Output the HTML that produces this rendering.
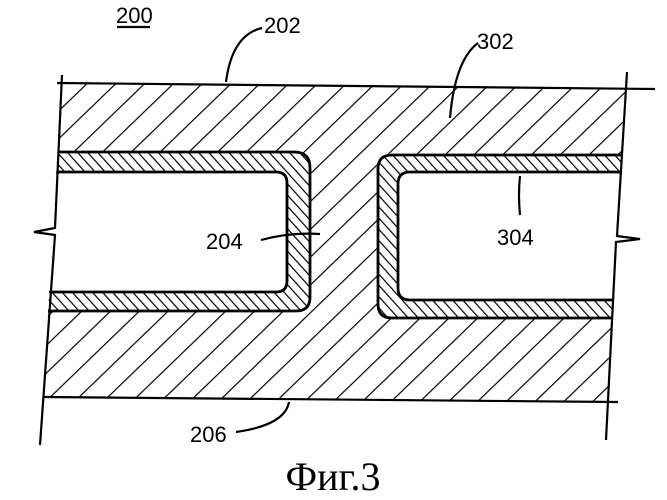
<!DOCTYPE html>
<html><head><meta charset="utf-8"><style>
html,body{margin:0;padding:0;background:#fff;}
svg{display:block;}
text{font-family:"Liberation Sans",Arial,sans-serif;fill:#000;}
</style></head><body>
<svg width="667" height="500" viewBox="0 0 667 500" xmlns="http://www.w3.org/2000/svg">
<defs>
<pattern id="wide" patternUnits="userSpaceOnUse" width="20" height="20" patternTransform="rotate(46)">
<rect width="20" height="20" fill="#fff"/><line x1="0" y1="0" x2="0" y2="20" stroke="#000" stroke-width="2.4"/>
</pattern>
<pattern id="fine" patternUnits="userSpaceOnUse" width="7.5" height="7.5" patternTransform="rotate(-42)">
<rect width="7.5" height="7.5" fill="#fff"/><line x1="0" y1="0" x2="0" y2="7.5" stroke="#000" stroke-width="2.4"/>
</pattern>
<clipPath id="slab"><polygon points="61.5,83 626,89 608,402 43,397"/></clipPath>
</defs>
<g clip-path="url(#slab)">
<polygon points="61.5,83 626,89 608,402 43,397" fill="url(#wide)"/>
<path d="M0,152 H294 Q310,152 310,168 V297 Q310,311 296,311 H0 Z" fill="url(#fine)" stroke="#000" stroke-width="2.8"/>
<path d="M0,172 H276 Q287,172 287,183 V281 Q287,292 276,292 H0 Z" fill="#fff" stroke="#000" stroke-width="2.8"/>
<path d="M667,155 H392 Q378,155 378,169 V304 Q378,318 392,318 H667 Z" fill="url(#fine)" stroke="#000" stroke-width="2.8"/>
<path d="M667,172 H410 Q398,172 398,184 V288 Q398,300 410,300 H667 Z" fill="#fff" stroke="#000" stroke-width="2.8"/>
</g>
<g stroke="#000" stroke-width="2.2" fill="none">
<line x1="57" y1="83" x2="655" y2="89"/>
<line x1="44" y1="397" x2="618" y2="402"/>
<polyline points="62,75 55,228 34,232 55,235 40,445"/>
<polyline points="627,72 617,236 640,239 616,242 606,440"/>
<path d="M262,28 Q232,35 226,82"/>
<path d="M478,43 Q455,60 450,118"/>
<path d="M261,240 Q290,232 320,234"/>
<path d="M520,215 Q518,195 520,176"/>
<path d="M236,432 Q285,425 289,402"/>
<line x1="117" y1="27" x2="150" y2="27"/>
</g>
<g font-size="22">
<text x="116" y="23">200</text>
<text x="264" y="33">202</text>
<text x="477" y="49">302</text>
<text x="206" y="249">204</text>
<text x="497" y="245">304</text>
<text x="190" y="442">206</text>
</g>
<text x="333" y="490" text-anchor="middle" font-size="40" style="font-family:'Liberation Serif',serif">Фиг.3</text>
</svg>
</body></html>
